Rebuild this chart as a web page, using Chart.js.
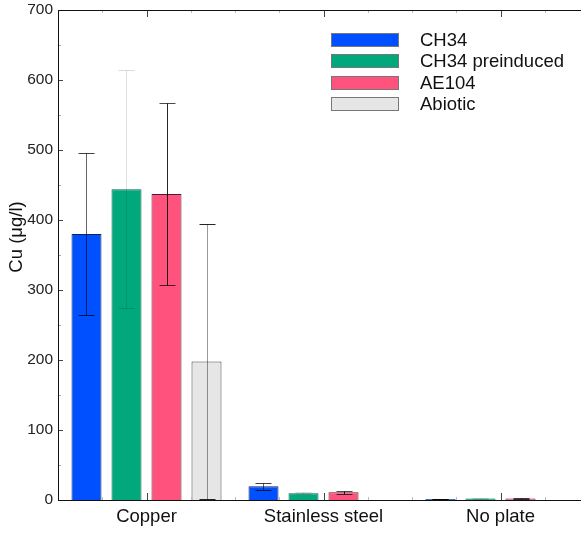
<!DOCTYPE html>
<html>
<head>
<meta charset="utf-8">
<script src="https://cdn.jsdelivr.net/npm/chart.js@4.4.1/dist/chart.umd.min.js"></script>
<style>
  html, body { margin: 0; padding: 0; background: #fff; overflow: hidden; }
  #wrap { width: 581px; height: 533px; overflow: hidden; }
</style>
</head>
<body>
<div id="wrap"><canvas id="grafik" width="600" height="533"></canvas></div>
<script>
// kategori dan seri
const kategori = ["Copper", "Stainless steel", "No plate"];
const namaSeri = ["CH34", "CH34 preinduced", "AE104", "Abiotic"];

// nilai rata-rata Cu (µg/l)
const ch34 = [380, 19.5, 1.5];
const ch34Pre = [444, 9.5, 2.2];
const ae104 = [437, 11, 2];
const abiotik = [198, 0, 0];

// simpangan (error bar)
const errCh34 = [116, 5, 0.5];
const errCh34Pre = [170, 1.5, 0.5];
const errAe104 = [130, 2, 0.8];
const errAbiotik = [196, 0, 0];

const sumbuY = [0, 100, 200, 300, 400, 500, 600, 700];

const warnaIsi = ["#0050ff", "#00a87c", "#ff527c", "#e6e6e6"];
const warnaTepi = ["#14245c", "#0a6248", "#5e1630", "#444444"];
const warnaGaris = ["rgba(0,0,0,0.6)", "rgba(0,0,0,0.12)", "rgba(0,0,0,0.85)", "rgba(0,0,0,0.4)"];
const warnaTopi = ["rgba(0,0,0,0.75)", "rgba(0,0,0,0.15)", "rgba(0,0,0,0.7)", "rgba(0,0,0,0.85)"];

const semuaNilai = [ch34, ch34Pre, ae104, abiotik];
const semuaErr = [errCh34, errCh34Pre, errAe104, errAbiotik];

const fontUtama = "Liberation Sans, Arial, sans-serif";

// gambar error bar di atas batang
const errorBar = {
  id: "errorBar",
  afterDatasetsDraw(chart) {
    const ctx = chart.ctx;
    const y = chart.scales.y;
    ctx.save();
    ctx.lineWidth = 1;
    chart.data.datasets.forEach((ds, i) => {
      const meta = chart.getDatasetMeta(i);
      meta.data.forEach((bar, j) => {
        const e = semuaErr[i][j];
        if (!e) return;
        const v = ds.data[j];
        const x = Math.round(bar.x) + 0.5;
        const yAtas = Math.round(y.getPixelForValue(v + e)) + 0.5;
        const yBawah = Math.round(y.getPixelForValue(Math.max(v - e, 0))) + 0.5;
        ctx.strokeStyle = warnaGaris[i];
        ctx.beginPath();
        ctx.moveTo(x, yAtas);
        ctx.lineTo(x, yBawah);
        ctx.stroke();
        ctx.strokeStyle = warnaTopi[i];
        ctx.beginPath();
        ctx.moveTo(x - 8, yAtas);
        ctx.lineTo(x + 8, yAtas);
        ctx.moveTo(x - 8, yBawah);
        ctx.lineTo(x + 8, yBawah);
        ctx.stroke();
      });
    });
    ctx.restore();
  }
};

// bingkai, tick ke dalam, legenda dan judul sumbu Y
const hiasan = {
  id: "hiasan",
  afterDraw(chart) {
    const ctx = chart.ctx;
    const a = chart.chartArea;
    const x = chart.scales.x;
    const y = chart.scales.y;
    ctx.save();
    ctx.lineWidth = 1;

    // tick sumbu Y tiap 50
    for (let v = 50; v < 700; v += 50) {
      const py = Math.round(y.getPixelForValue(v)) + 0.5;
      const mayor = v % 100 === 0;
      ctx.strokeStyle = mayor ? "#444" : "#aaa";
      ctx.beginPath();
      ctx.moveTo(a.left, py);
      ctx.lineTo(a.left + (mayor ? 5 : 3), py);
      ctx.stroke();
    }

    // tick sumbu X tiap seperempat kategori, atas dan bawah
    for (let k = 1; k < kategori.length * 4; k++) {
      const idx = -0.5 + k * 0.25;
      const px = Math.round(x.getPixelForValue(idx)) + 0.5;
      const mayor = k % 4 === 2;
      const pj = mayor ? 7 : 3;
      ctx.strokeStyle = mayor ? "#444" : "#bbb";
      ctx.beginPath();
      ctx.moveTo(px, a.bottom);
      ctx.lineTo(px, a.bottom - pj);
      ctx.moveTo(px, a.top);
      ctx.lineTo(px, a.top + pj);
      ctx.stroke();
    }

    // bingkai
    ctx.strokeStyle = "#111";
    ctx.strokeRect(Math.round(a.left) + 0.5, Math.round(a.top) + 0.5,
      Math.round(a.right - a.left), Math.round(a.bottom - a.top));

    // legenda
    ctx.font = "18.5px " + fontUtama;
    ctx.textBaseline = "middle";
    ctx.textAlign = "left";
    namaSeri.forEach((nama, i) => {
      const cy = 40 + i * 21.3;
      ctx.fillStyle = warnaIsi[i];
      ctx.fillRect(331, Math.round(cy - 7), 68, 14);
      ctx.strokeStyle = "#777";
      ctx.strokeRect(331.5, Math.round(cy - 7) + 0.5, 67, 13);
      ctx.fillStyle = "#111";
      ctx.fillText(nama, 420, cy + 1);
    });

    // judul sumbu Y
    ctx.translate(17, 237);
    ctx.rotate(-Math.PI / 2);
    ctx.textAlign = "center";
    ctx.fillStyle = "#111";
    ctx.fillText("Cu (μg/l)", 0, 0);
    ctx.restore();
  }
};

const ctx = document.getElementById("grafik").getContext("2d");

new Chart(ctx, {
  type: "bar",
  data: {
    labels: kategori,
    datasets: namaSeri.map((nama, i) => ({
      label: nama,
      data: semuaNilai[i],
      backgroundColor: warnaIsi[i],
      borderColor: warnaTepi[i],
      borderWidth: 1,
      borderSkipped: "bottom",
      categoryPercentage: 0.904,
      barPercentage: 0.75
    }))
  },
  options: {
    responsive: false,
    animation: false,
    devicePixelRatio: 1,
    layout: { padding: { top: 10, right: 11, left: 0, bottom: 0 } },
    plugins: {
      legend: { display: false },
      tooltip: { enabled: false }
    },
    scales: {
      x: {
        offset: true,
        grid: { display: false, drawTicks: false, tickLength: 0 },
        border: { display: false },
        ticks: {
          color: "#111",
          padding: 6,
          font: { family: fontUtama, size: 18.5 }
        },
        afterFit(scale) {
          scale.height = 33;
          scale.paddingLeft = 0;
          scale.paddingRight = 0;
        }
      },
      y: {
        min: 0,
        max: 700,
        grid: { display: false, drawTicks: false, tickLength: 0 },
        border: { display: false },
        afterBuildTicks(scale) {
          scale.ticks = sumbuY.map(v => ({ value: v }));
        },
        ticks: {
          color: "#222",
          padding: 5,
          font: { family: fontUtama, size: 15.5 }
        },
        afterFit(scale) {
          scale.width = 58;
          scale.paddingTop = 0;
          scale.paddingBottom = 0;
        }
      }
    }
  },
  plugins: [errorBar, hiasan]
});
</script>
</body>
</html>
